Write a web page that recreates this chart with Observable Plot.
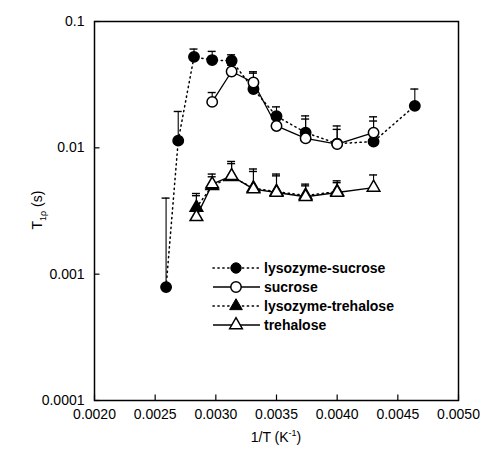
<!DOCTYPE html>
<html><head><meta charset="utf-8">
<script src="https://cdn.jsdelivr.net/npm/d3@7"></script>
<script src="https://cdn.jsdelivr.net/npm/@observablehq/plot@0.6"></script>
<style>body{margin:0;background:#fff} #chart{width:487px;height:457px}</style>
</head><body><div id="chart"></div>
<script>
const seriesNames = ["lysozyme-sucrose", "sucrose", "lysozyme-trehalose", "trehalose"];

const lsX  = [0.00259, 0.00269, 0.00282, 0.00297, 0.00313, 0.00331, 0.00350, 0.00374, 0.00400, 0.00430, 0.00464];
const lsY  = [0.00079, 0.0114, 0.0525, 0.0495, 0.0489, 0.0292, 0.0178, 0.0132, 0.0108, 0.0112, 0.0215];
const lsUp = [0.0040, 0.0194, 0.0605, 0.0580, 0.0545, 0.0400, 0.0211, 0.0179, 0.0140, 0.0163, 0.0292];

const sX  = [0.00297, 0.00313, 0.00331, 0.00350, 0.00374, 0.00400, 0.00430];
const sY  = [0.0231, 0.0402, 0.0329, 0.0149, 0.0119, 0.0107, 0.0132];
const sUp = [0.0274, 0.0450, 0.0390, 0.0175, 0.0169, 0.0149, 0.0176];

const ltX  = [0.00284, 0.00297, 0.00313, 0.00331, 0.00350, 0.00374, 0.00400];
const ltY  = [0.00337, 0.0050, 0.0059, 0.0048, 0.0045, 0.0042, 0.0045];
const ltUp = [0.00435, 0.0062, 0.0078, 0.0068, 0.0062, 0.00516, 0.00548];

const tX  = [0.00284, 0.00297, 0.00313, 0.00331, 0.00350, 0.00374, 0.00400, 0.00430];
const tY  = [0.00284, 0.00516, 0.0060, 0.00471, 0.00443, 0.0041, 0.00443, 0.00485];
const tUp = [0.00418, 0.0059, 0.0075, 0.0065, 0.0060, 0.0050, 0.0053, 0.0061];

const xTicks = [0.0020, 0.0025, 0.0030, 0.0035, 0.0040, 0.0045, 0.0050];
const yTicks = [0.0001, 0.001, 0.01, 0.1];

function rows(xs, ys, ups, name) {
  return xs.map((x, i) => ({x, y: ys[i], up: ups[i], series: name}));
}
const ls = rows(lsX, lsY, lsUp, seriesNames[0]);
const s  = rows(sX, sY, sUp, seriesNames[1]);
const lt = rows(ltX, ltY, ltUp, seriesNames[2]);
const t  = rows(tX, tY, tUp, seriesNames[3]);

const font = "'Liberation Sans', Arial, Helvetica, sans-serif";
const rC = 5.2, rT = 4.7;
const dots = "1.3,3.6";

// inward tick shapes
const tickUp = {draw(ctx) { ctx.moveTo(0, 0); ctx.lineTo(0, -6); }};
const tickRight = {draw(ctx) { ctx.moveTo(0, 0); ctx.lineTo(5, 0); }};

const errMarks = d => [
  Plot.ruleX(d, {x: "x", y1: "y", y2: "up", stroke: "black", strokeWidth: 1.1}),
  Plot.ruleY(d, {y: "up", x1: "x", x2: "x", insetLeft: -4, insetRight: -4, stroke: "black", strokeWidth: 1.4})
];

const plot = Plot.plot({
  width: 487, height: 457,
  marginLeft: 94, marginRight: 29, marginTop: 21, marginBottom: 57,
  style: {fontFamily: font, fontSize: "14px", background: "#fff", color: "#000"},
  x: {domain: [0.002, 0.005]},
  y: {type: "log", domain: [1e-4, 0.1]},
  marks: [
    Plot.axisX({ticks: xTicks, tickSize: 0, tickPadding: 9, tickFormat: d => d.toFixed(4), label: null, fontSize: 14, fill: "black"}),
    Plot.axisY({ticks: yTicks, tickSize: 0, tickPadding: 10, tickFormat: d => String(d), label: null, fontSize: 14, fill: "black"}),
    Plot.dot(xTicks, {x: d => d, frameAnchor: "bottom", symbol: tickUp, stroke: "black", strokeWidth: 1.2, fill: "none"}),
    Plot.dot(yTicks, {y: d => d, frameAnchor: "left", symbol: tickRight, stroke: "black", strokeWidth: 1.2, fill: "none"}),
    ...errMarks(ls), ...errMarks(s), ...errMarks(lt), ...errMarks(t),
    Plot.line(ls, {x: "x", y: "y", stroke: "black", strokeWidth: 1.5, strokeDasharray: dots, strokeLinecap: "round"}),
    Plot.line(lt, {x: "x", y: "y", stroke: "black", strokeWidth: 1.5, strokeDasharray: dots, strokeLinecap: "round"}),
    Plot.line(s, {x: "x", y: "y", stroke: "black", strokeWidth: 1.3}),
    Plot.line(t, {x: "x", y: "y", stroke: "black", strokeWidth: 1.3}),
    Plot.dot(ls, {x: "x", y: "y", r: rC, fill: "black", stroke: "black"}),
    Plot.dot(s, {x: "x", y: "y", r: rC, fill: "white", stroke: "black", strokeWidth: 1.5}),
    Plot.dot(lt, {x: "x", y: "y", r: rT, symbol: "triangle", fill: "black", stroke: "black"}),
    Plot.dot(t, {x: "x", y: "y", r: rT, symbol: "triangle", fill: "white", stroke: "black", strokeWidth: 1.5}),
    Plot.frame({stroke: "black", strokeWidth: 1.5})
  ]
});
document.getElementById("chart").appendChild(plot);

const svg = d3.select(plot);
// Legend
const legend = [
  {name: seriesNames[0], dash: dots, sym: "circle", fill: "black"},
  {name: seriesNames[1], dash: null, sym: "circle", fill: "white"},
  {name: seriesNames[2], dash: dots, sym: "triangle", fill: "black"},
  {name: seriesNames[3], dash: null, sym: "triangle", fill: "white"}
];
const lg = svg.append("g").attr("font-family", font);
legend.forEach((d, i) => {
  const yy = 268 + i * 19;
  lg.append("line").attr("x1", 213).attr("x2", 260).attr("y1", yy).attr("y2", yy)
    .attr("stroke", "black").attr("stroke-width", d.dash ? 1.5 : 1.3)
    .attr("stroke-dasharray", d.dash).attr("stroke-linecap", d.dash ? "round" : null);
  const r = d.sym === "circle" ? rC : rT;
  lg.append("path")
    .attr("d", d3.symbol().type(d.sym === "circle" ? d3.symbolCircle : d3.symbolTriangle).size(Math.PI * r * r)())
    .attr("transform", `translate(236,${yy})`)
    .attr("fill", d.fill).attr("stroke", "black").attr("stroke-width", d.fill === "white" ? 1.5 : 1);
  lg.append("text").attr("x", 264).attr("y", yy).attr("dy", "0.35em")
    .attr("text-anchor", "start").attr("fill", "black")
    .attr("font-size", 14).attr("font-weight", "bold").text(d.name);
});
// Axis labels
const xl = svg.append("text").attr("x", 276).attr("y", 442).attr("text-anchor", "middle")
  .attr("fill", "black").attr("font-family", font).attr("font-size", 14);
xl.append("tspan").text("1/T (K");
xl.append("tspan").attr("font-size", 9).attr("dy", -6).text("-1");
xl.append("tspan").attr("dy", 6).text(")");

const yl = svg.append("text").attr("transform", "translate(42,210) rotate(-90)").attr("text-anchor", "middle")
  .attr("fill", "black").attr("font-family", font).attr("font-size", 14);
yl.append("tspan").text("T");
yl.append("tspan").attr("font-size", 9).attr("dy", 4).text("1\u03C1");
yl.append("tspan").attr("dy", -4).text(" (s)");
</script>
</body></html>
